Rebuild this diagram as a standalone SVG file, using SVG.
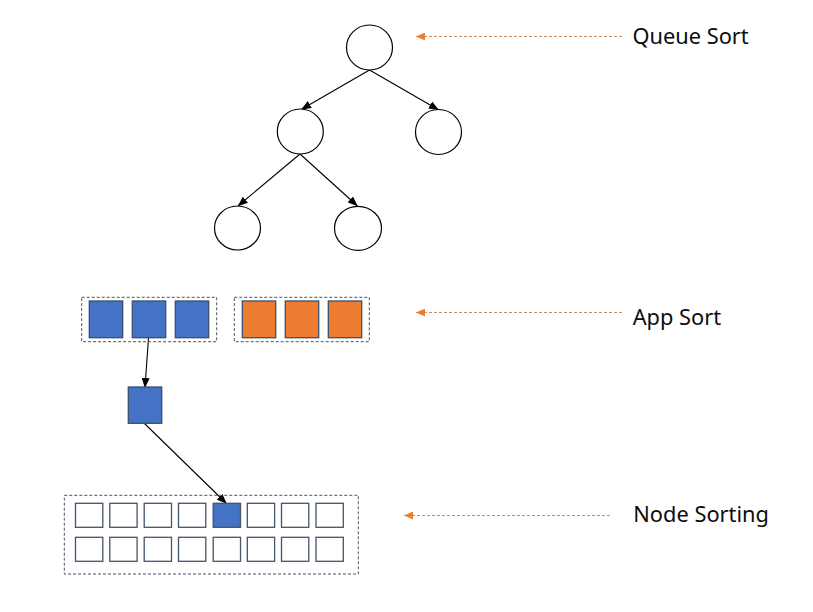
<svg xmlns="http://www.w3.org/2000/svg" width="813" height="612" viewBox="0 0 813 612">
<style>
.circ{fill:#fff;stroke:#000;stroke-width:1.2}
.edge{stroke:#000;stroke-width:1.1;fill:none}
.guide{stroke:#c98a5c;stroke-width:1;stroke-dasharray:3 2;fill:none}
.grp{fill:none;stroke:#44546a;stroke-width:1;stroke-dasharray:3 2}
.blue{fill:#4472c4;stroke:#3b4f6b;stroke-width:1.3}
.orange{fill:#ed7d31;stroke:#3b4f6b;stroke-width:1.3}
.cell{fill:#fff;stroke:#44546a;stroke-width:1.3}
.cellb{fill:#4472c4;stroke:#44546a;stroke-width:1.3}
.lbl{font-family:"Noto Sans","Open Sans",sans-serif;font-size:21.8px;fill:#0d0d0d}
</style>
<defs>
<marker id="ah" markerWidth="10" markerHeight="8" refX="9" refY="4" orient="auto" markerUnits="userSpaceOnUse">
<path d="M0,0 L10,4 L0,8 Z" fill="#000"/>
</marker>
<marker id="ao" markerWidth="9" markerHeight="8" refX="9" refY="4" orient="auto" markerUnits="userSpaceOnUse">
<path d="M0,0 L9,4 L0,8 Z" fill="#ed7d31"/>
</marker>
</defs>
<rect width="813" height="612" fill="#fff"/>
<g id="connectors">
<line class="edge" x1="369.5" y1="70" x2="302" y2="109" marker-end="url(#ah)"/>
<line class="edge" x1="369.5" y1="70" x2="438" y2="109.5" marker-end="url(#ah)"/>
<line class="edge" x1="300" y1="154" x2="238.5" y2="205.5" marker-end="url(#ah)"/>
<line class="edge" x1="300" y1="154" x2="357" y2="205.5" marker-end="url(#ah)"/>
<line class="edge" x1="148.5" y1="338" x2="145" y2="387" marker-end="url(#ah)"/>
<line class="edge" x1="144.5" y1="423.5" x2="226" y2="503" marker-end="url(#ah)"/>
<line class="guide" x1="622" y1="36.5" x2="416" y2="36.5" marker-end="url(#ao)"/>
<line class="guide" x1="622" y1="312.5" x2="416" y2="312.5" marker-end="url(#ao)"/>
<line class="guide" x1="610" y1="515.5" x2="404" y2="515.5" marker-end="url(#ao)"/>
</g>
<g id="root"><ellipse class="circ" cx="369.5" cy="47.5" rx="23" ry="22.5"/></g>
<g id="mid-left"><ellipse class="circ" cx="300.3" cy="131.5" rx="23" ry="22.5"/></g>
<g id="mid-right"><ellipse class="circ" cx="438.5" cy="132" rx="23" ry="22.5"/></g>
<g id="leaf-left"><ellipse class="circ" cx="237.5" cy="228" rx="23" ry="22"/></g>
<g id="leaf-right"><ellipse class="circ" cx="358" cy="228.3" rx="23.5" ry="22"/></g>
<g id="app-blue">
<rect class="grp" x="81.7" y="297.3" width="135" height="44.4"/>
<rect class="blue" x="89.3" y="301" width="33.4" height="36.7"/>
<rect class="blue" x="132.3" y="301" width="33.4" height="36.7"/>
<rect class="blue" x="175.3" y="301" width="33.4" height="36.7"/>
</g>
<g id="app-orange">
<rect class="grp" x="234.3" y="297.3" width="135" height="44.4"/>
<rect class="orange" x="242.3" y="301" width="33.4" height="36.7"/>
<rect class="orange" x="285.3" y="301" width="33.4" height="36.7"/>
<rect class="orange" x="328.3" y="301" width="33.4" height="36.7"/>
</g>
<g id="selected-app"><rect class="blue" x="128.3" y="387" width="33.4" height="36.3"/></g>
<g id="node-grid">
<rect class="grp" x="64.3" y="495.3" width="294" height="78.7"/>
<rect class="cell" x="75.5" y="503.3" width="27.3" height="24"/>
<rect class="cell" x="109.8" y="503.3" width="27.3" height="24"/>
<rect class="cell" x="144.2" y="503.3" width="27.3" height="24"/>
<rect class="cell" x="178.5" y="503.3" width="27.3" height="24"/>
<rect class="cellb" x="213.2" y="503.3" width="27.3" height="24"/>
<rect class="cell" x="247.3" y="503.3" width="27.3" height="24"/>
<rect class="cell" x="281.5" y="503.3" width="27.3" height="24"/>
<rect class="cell" x="316" y="503.3" width="27.3" height="24"/>
<rect class="cell" x="75.5" y="537.3" width="27.3" height="24"/>
<rect class="cell" x="109.8" y="537.3" width="27.3" height="24"/>
<rect class="cell" x="144.2" y="537.3" width="27.3" height="24"/>
<rect class="cell" x="178.5" y="537.3" width="27.3" height="24"/>
<rect class="cell" x="213.2" y="537.3" width="27.3" height="24"/>
<rect class="cell" x="247.3" y="537.3" width="27.3" height="24"/>
<rect class="cell" x="281.5" y="537.3" width="27.3" height="24"/>
<rect class="cell" x="316" y="537.3" width="27.3" height="24"/>
</g>
<g id="labels">
<text class="lbl" x="632.5" y="43.5">Queue Sort</text>
<text class="lbl" x="632.7" y="325">App Sort</text>
<text class="lbl" x="633.3" y="522.3">Node Sorting</text>
</g>
</svg>
